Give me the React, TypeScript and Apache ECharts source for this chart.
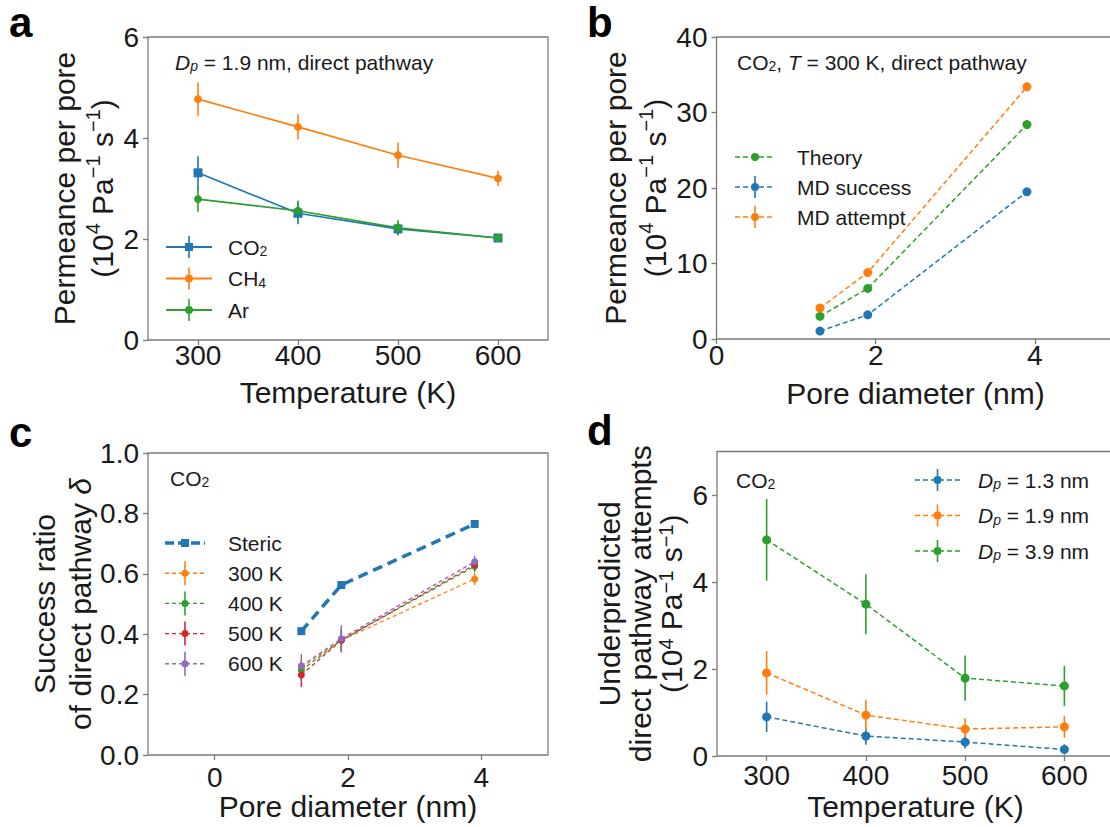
import React, { useEffect, useRef } from 'react';
import * as echarts from 'echarts';

const FONT = '"Liberation Sans", Arial, Helvetica, sans-serif';
const INK = '#1a1a1a';
const FRAME = '#7a7a7a';
const BLUE = '#1f77b4';
const ORANGE = '#ff7f0e';
const GREEN = '#2ca02c';
const RED = '#d62728';
const PURPLE = '#9467bd';

// ---------------- data ----------------
const temperatures = [300, 400, 500, 600];
const poreDiameters = [1.3, 1.9, 3.9];

const temperatureTicks = [300, 400, 500, 600];
const diameterTicks = [0, 2, 4];
const aYTicks = [0, 2, 4, 6];
const bYTicks = [0, 10, 20, 30, 40];
const cYTicks = [0, 0.2, 0.4, 0.6, 0.8, 1.0];
const dYTicks = [0, 2, 4, 6];

// panel a : permeance per pore vs temperature (Dp = 1.9 nm)
const aCO2 = [3.31, 2.51, 2.2, 2.02];
const aCO2Err = [0.33, 0.22, 0.12, 0.05];
const aCH4 = [4.77, 4.22, 3.66, 3.2];
const aCH4Err = [0.33, 0.25, 0.25, 0.15];
const aAr = [2.79, 2.56, 2.22, 2.02];
const aArErr = [0.25, 0.2, 0.15, 0.06];

// panel b : permeance per pore vs pore diameter (CO2, 300 K)
const bTheory = [3.0, 6.7, 28.4];
const bSuccess = [1.05, 3.2, 19.5];
const bSuccessErr = [0.3, 0.35, 0.45];
const bAttempt = [4.1, 8.8, 33.4];
const bAttemptErr = [0.4, 0.5, 0.6];

// panel c : success ratio vs pore diameter
const cSteric = [0.41, 0.563, 0.765];
const c300 = [0.29, 0.38, 0.583];
const c300Err = [0.03, 0.03, 0.02];
const c400 = [0.28, 0.38, 0.625];
const c400Err = [0.03, 0.035, 0.02];
const c500 = [0.265, 0.38, 0.63];
const c500Err = [0.04, 0.04, 0.02];
const c600 = [0.295, 0.385, 0.64];
const c600Err = [0.04, 0.045, 0.02];

// panel d : underpredicted direct pathway attempts vs temperature
const d13 = [0.9, 0.46, 0.32, 0.15];
const d13Err = [0.35, 0.2, 0.15, 0.12];
const d19 = [1.91, 0.94, 0.62, 0.67];
const d19Err = [0.5, 0.35, 0.25, 0.25];
const d39 = [4.97, 3.49, 1.79, 1.61];
const d39Err = [0.94, 0.69, 0.52, 0.46];

const legendLabels: Record<string, string> = {
  CO2: 'CO{sub|2}',
  CH4: 'CH{sub|4}',
  Ar: 'Ar',
  Theory: 'Theory',
  'MD success': 'MD success',
  'MD attempt': 'MD attempt',
  Steric: 'Steric',
  '300 K': '300 K',
  '400 K': '400 K',
  '500 K': '500 K',
  '600 K': '600 K',
  'Dp = 1.3 nm': '{it|D}{isub|p} = 1.3 nm',
  'Dp = 1.9 nm': '{it|D}{isub|p} = 1.9 nm',
  'Dp = 3.9 nm': '{it|D}{isub|p} = 3.9 nm',
};

// ---------------- helpers ----------------
const SMALL_RICH = {
  sub: { fontFamily: FONT, fontSize: 14, color: INK, lineHeight: 10, verticalAlign: 'bottom' },
  it: { fontFamily: FONT, fontSize: 21, color: INK, fontStyle: 'italic' },
  isub: { fontFamily: FONT, fontSize: 14, color: INK, fontStyle: 'italic', lineHeight: 10, verticalAlign: 'bottom' },
};
const SMALL_RICH_Z = {
  sub: { fontFamily: FONT, fontSize: 14, fill: INK, lineHeight: 10, verticalAlign: 'bottom' },
  it: { fontFamily: FONT, fontSize: 21, fill: INK, fontStyle: 'italic' },
  isub: { fontFamily: FONT, fontSize: 14, fill: INK, fontStyle: 'italic', lineHeight: 10, verticalAlign: 'bottom' },
};

const TITLE_SIZE = 30;
const TICK_SIZE = 28;

function axisRich(lh: number) {
  return {
    t: { fontFamily: FONT, fontSize: TITLE_SIZE, color: INK, lineHeight: lh },
    it: { fontFamily: FONT, fontSize: TITLE_SIZE, color: INK, fontStyle: 'italic', lineHeight: lh },
    sup: { fontFamily: FONT, fontSize: 20, color: INK, lineHeight: 14, verticalAlign: 'top' },
  };
}

function rectPath(x0: number, y0: number, x1: number, y1: number) {
  return `M${x0},${y0}L${x1},${y0}L${x1},${y1}L${x0},${y1}Z`;
}
function circlePath(cx: number, cy: number, r: number) {
  return `M${cx - r},${cy}A${r},${r},0,1,1,${cx + r},${cy}A${r},${r},0,1,1,${cx - r},${cy}Z`;
}
function iconPath(o: { W: number; H: number; len: number; thick: number; dash?: number[]; marker: string; msize: number; err: boolean }) {
  const { W, H, len, thick, dash, marker, msize, err } = o;
  const cy = H / 2;
  const cx = len / 2;
  let d = `M0,0L0,0ZM${W},${H}L${W},${H}Z`;
  if (!dash) {
    d += rectPath(0, cy - thick / 2, len, cy + thick / 2);
  } else {
    let x = 0;
    while (x < len) {
      const x1 = Math.min(x + dash[0], len);
      d += rectPath(x, cy - thick / 2, x1, cy + thick / 2);
      x += dash[0] + dash[1];
    }
  }
  if (err) d += rectPath(cx - 0.8, 0, cx + 0.8, H);
  if (marker === 'circle') d += circlePath(cx, cy, msize / 2);
  else d += rectPath(cx - msize / 2, cy - msize / 2, cx + msize / 2, cy + msize / 2);
  return 'path://' + d;
}

function xAxisCfg(gi: number, min: number, max: number, ticks: number[], name: string, gap: number, margin: number) {
  return {
    type: 'value', gridIndex: gi, min, max,
    name, nameLocation: 'middle', nameGap: gap, nameMoveOverlap: false,
    nameTextStyle: { fontFamily: FONT, fontSize: TITLE_SIZE, color: INK, lineHeight: 24 },
    axisLine: { show: false, onZero: false },
    axisTick: { show: true, inside: false, length: 5, customValues: ticks, lineStyle: { color: FRAME, width: 1.3 } },
    axisLabel: { customValues: ticks, fontFamily: FONT, fontSize: TICK_SIZE, color: INK, margin, lineHeight: 24 },
    splitLine: { show: false },
  };
}
function yAxisCfg(gi: number, min: number, max: number, ticks: number[], name: string, gap: number, lh: number, fmt?: (v: number) => string) {
  return {
    type: 'value', gridIndex: gi, min, max,
    name, nameLocation: 'middle', nameGap: gap, nameRotate: 90, nameMoveOverlap: false,
    nameTextStyle: { fontFamily: FONT, fontSize: TITLE_SIZE, color: INK, lineHeight: lh, rich: axisRich(lh) },
    axisLine: { show: false, onZero: false },
    axisTick: { show: true, inside: false, length: 5, customValues: ticks, lineStyle: { color: FRAME, width: 1.3 } },
    axisLabel: { customValues: ticks, fontFamily: FONT, fontSize: TICK_SIZE, color: INK, margin: 9, formatter: fmt },
    splitLine: { show: false },
  };
}

function lineSeries(name: string, gi: number, xs: number[], ys: number[], color: string, symbol: string, size: number, width: number, dash: any, z = 3) {
  return {
    type: 'line', name, xAxisIndex: gi, yAxisIndex: gi, silent: true,
    data: xs.map((x, i) => [x, ys[i]]),
    symbol, symbolSize: size, showSymbol: true,
    lineStyle: { color, width, type: dash },
    itemStyle: { color, borderWidth: 0 },
    z,
  };
}
function errSeries(name: string, gi: number, xs: number[], ys: number[], es: number[], color: string, width = 1.6) {
  return {
    type: 'custom', name, xAxisIndex: gi, yAxisIndex: gi, silent: true,
    data: xs.map((x, i) => [x, ys[i], es[i]]),
    encode: { x: 0, y: 1 },
    z: 2,
    renderItem: (_p: any, api: any) => {
      const x = api.value(0);
      const y = api.value(1);
      const e = api.value(2);
      const p1 = api.coord([x, y - e]);
      const p2 = api.coord([x, y + e]);
      return { type: 'line', shape: { x1: p1[0], y1: p1[1], x2: p2[0], y2: p2[1] }, style: { stroke: color, lineWidth: width } };
    },
  };
}

function legendCfg(items: { name: string; color: string; icon: string }[], left: number, top: number, gap: number, W: number, H: number) {
  return {
    orient: 'vertical', left, top, padding: 0, itemGap: gap, itemWidth: W, itemHeight: H,
    selectedMode: false,
    data: items.map((it) => ({ name: it.name, icon: it.icon, itemStyle: { color: it.color, borderWidth: 0 } })),
    formatter: (n: string) => legendLabels[n] ?? n,
    textStyle: { fontFamily: FONT, fontSize: 21, color: INK, lineHeight: H, rich: SMALL_RICH },
  };
}

function buildOption() {
  const aIcon = (marker: string) => iconPath({ W: 57, H: 22, len: 46, thick: 1.8, marker, msize: 8, err: true });
  const bIcon = (err: boolean) => iconPath({ W: 57, H: 22, len: 40, thick: 1.6, dash: [5, 3], marker: 'circle', msize: 8, err });
  const cIconSteric = iconPath({ W: 58, H: 24, len: 40, thick: 3.5, dash: [9, 4], marker: 'square', msize: 8, err: false });
  const cIcon = iconPath({ W: 58, H: 24, len: 40, thick: 1.4, dash: [4, 3], marker: 'circle', msize: 7, err: true });
  const dIcon = iconPath({ W: 58, H: 22, len: 45, thick: 1.5, dash: [5, 3], marker: 'circle', msize: 8, err: true });

  const dashB = [5, 3];
  const dashC = [4, 3];

  const series: any[] = [
    // panel a
    errSeries('CO2 err', 0, temperatures, aCO2, aCO2Err, BLUE),
    lineSeries('CO2', 0, temperatures, aCO2, BLUE, 'rect', 9, 1.6, 'solid'),
    errSeries('CH4 err', 0, temperatures, aCH4, aCH4Err, ORANGE),
    lineSeries('CH4', 0, temperatures, aCH4, ORANGE, 'circle', 8, 1.6, 'solid'),
    errSeries('Ar err', 0, temperatures, aAr, aArErr, GREEN),
    lineSeries('Ar', 0, temperatures, aAr, GREEN, 'circle', 8, 1.6, 'solid', 4),
    // panel b
    lineSeries('Theory', 1, poreDiameters, bTheory, GREEN, 'circle', 9, 1.5, dashB),
    errSeries('MD success err', 1, poreDiameters, bSuccess, bSuccessErr, BLUE),
    lineSeries('MD success', 1, poreDiameters, bSuccess, BLUE, 'circle', 9, 1.5, dashB),
    errSeries('MD attempt err', 1, poreDiameters, bAttempt, bAttemptErr, ORANGE),
    lineSeries('MD attempt', 1, poreDiameters, bAttempt, ORANGE, 'circle', 9, 1.5, dashB),
    // panel c
    lineSeries('Steric', 2, poreDiameters, cSteric, BLUE, 'rect', 8, 3.5, [10, 6]),
    errSeries('300 K err', 2, poreDiameters, c300, c300Err, ORANGE, 1.4),
    lineSeries('300 K', 2, poreDiameters, c300, ORANGE, 'circle', 7, 1.3, dashC),
    errSeries('400 K err', 2, poreDiameters, c400, c400Err, GREEN, 1.4),
    lineSeries('400 K', 2, poreDiameters, c400, GREEN, 'circle', 7, 1.3, dashC),
    errSeries('500 K err', 2, poreDiameters, c500, c500Err, RED, 1.4),
    lineSeries('500 K', 2, poreDiameters, c500, RED, 'circle', 7, 1.3, dashC),
    errSeries('600 K err', 2, poreDiameters, c600, c600Err, PURPLE, 1.4),
    lineSeries('600 K', 2, poreDiameters, c600, PURPLE, 'circle', 7, 1.3, dashC),
    // panel d
    errSeries('Dp13 err', 3, temperatures, d13, d13Err, BLUE),
    lineSeries('Dp = 1.3 nm', 3, temperatures, d13, BLUE, 'circle', 9, 1.5, dashB),
    errSeries('Dp19 err', 3, temperatures, d19, d19Err, ORANGE),
    lineSeries('Dp = 1.9 nm', 3, temperatures, d19, ORANGE, 'circle', 9, 1.5, dashB),
    errSeries('Dp39 err', 3, temperatures, d39, d39Err, GREEN),
    lineSeries('Dp = 3.9 nm', 3, temperatures, d39, GREEN, 'circle', 9, 1.5, dashB),
  ];

  const gridBase = { show: true, borderColor: FRAME, borderWidth: 1.3, backgroundColor: 'transparent', containLabel: false, outerBoundsMode: 'none' };

  const yNameA = '{t|Permeance per pore}\n{t|(10}{sup|4}{t| Pa}{sup|\u22121}{t| s}{sup|\u22121}{t|)}';
  const yNameC = '{t|Success ratio}\n{t|of direct pathway }{it|\u03b4}';
  const yNameD = '{t|Underpredicted}\n{t|direct pathway attempts}\n{t|(10}{sup|4}{t| Pa}{sup|\u22121}{t| s}{sup|\u22121}{t|)}';

  const letter = (t: string, x: number, y: number) => ({
    type: 'text', x, y, silent: true,
    style: { text: t, fontFamily: FONT, fontWeight: 'bold', fontSize: 42, fill: '#000', verticalAlign: 'middle' },
  });
  const note = (t: string, x: number, y: number) => ({
    type: 'text', x, y, silent: true,
    style: { text: t, rich: SMALL_RICH_Z, fontFamily: FONT, fontSize: 21, fill: INK, verticalAlign: 'middle' },
  });

  return {
    animation: false,
    backgroundColor: '#ffffff',
    grid: [
      { ...gridBase, left: 148, top: 37, width: 400, height: 303 },
      { ...gridBase, left: 716.5, top: 37, width: 398, height: 302 },
      { ...gridBase, left: 148, top: 453, width: 400, height: 302 },
      { ...gridBase, left: 717, top: 451.5, width: 397, height: 304.5 },
    ],
    xAxis: [
      xAxisCfg(0, 250, 650, temperatureTicks, 'Temperature (K)', 40, 3),
      xAxisCfg(1, 0, 5, diameterTicks, 'Pore diameter (nm)', 42, 4),
      xAxisCfg(2, -1, 5, diameterTicks, 'Pore diameter (nm)', 39, 10),
      xAxisCfg(3, 250, 650, temperatureTicks, 'Temperature (K)', 38, 7),
    ],
    yAxis: [
      yAxisCfg(0, 0, 6, aYTicks, yNameA, 27, 38),
      yAxisCfg(1, 0, 40, bYTicks, yNameA, 41, 40),
      yAxisCfg(2, 0, 1, cYTicks, yNameC, 50, 36, (v: number) => v.toFixed(1)),
      yAxisCfg(3, 0, 7, dYTicks, yNameD, 30, 31),
    ],
    legend: [
      legendCfg([
        { name: 'CO2', color: BLUE, icon: iconPath({ W: 57, H: 22, len: 46, thick: 1.8, marker: 'square', msize: 8, err: true }) },
        { name: 'CH4', color: ORANGE, icon: aIcon('circle') },
        { name: 'Ar', color: GREEN, icon: aIcon('circle') },
      ], 166, 236, 9.5, 57, 22),
      legendCfg([
        { name: 'Theory', color: GREEN, icon: bIcon(false) },
        { name: 'MD success', color: BLUE, icon: bIcon(true) },
        { name: 'MD attempt', color: ORANGE, icon: bIcon(true) },
      ], 735, 146, 8, 57, 22),
      legendCfg([
        { name: 'Steric', color: BLUE, icon: cIconSteric },
        { name: '300 K', color: ORANGE, icon: cIcon },
        { name: '400 K', color: GREEN, icon: cIcon },
        { name: '500 K', color: RED, icon: cIcon },
        { name: '600 K', color: PURPLE, icon: cIcon },
      ], 165, 531, 6.2, 58, 24),
      legendCfg([
        { name: 'Dp = 1.3 nm', color: BLUE, icon: dIcon },
        { name: 'Dp = 1.9 nm', color: ORANGE, icon: dIcon },
        { name: 'Dp = 3.9 nm', color: GREEN, icon: dIcon },
      ], 915, 469, 13.5, 58, 22),
    ],
    graphic: [
      letter('a', 9, 22),
      letter('b', 587, 22),
      letter('c', 9, 432),
      letter('d', 587, 430),
      note('{it|D}{isub|p} = 1.9 nm, direct pathway', 175, 62),
      note('CO{sub|2}, {it|T} = 300 K, direct pathway', 737, 62),
      note('CO{sub|2}', 170, 478),
      note('CO{sub|2}', 736, 480),
    ],
    series,
  };
}

export default function App() {
  const ref = useRef<HTMLDivElement>(null);
  useEffect(() => {
    if (!ref.current) return;
    const chart = echarts.init(ref.current, undefined, { renderer: 'svg' });
    chart.setOption(buildOption() as any);
    return () => {
      chart.dispose();
    };
  }, []);
  return (
    <div
      ref={ref}
      style={{ position: 'fixed', left: 0, top: 0, width: 1110, height: 827, background: '#fff' }}
    />
  );
}
